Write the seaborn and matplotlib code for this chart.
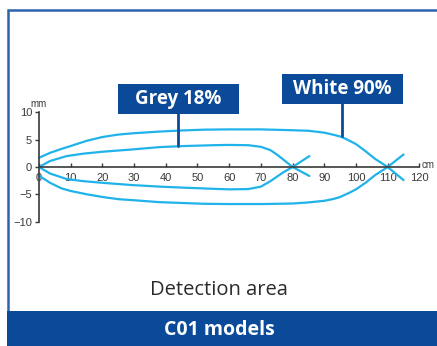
import numpy as np
import pandas as pd
import seaborn as sns
import matplotlib.pyplot as plt
from matplotlib.patches import Rectangle

# detection curves (cm, mm)
white_up_x = [0, 3.5, 7, 10, 15, 20, 25, 30, 38, 45, 52, 60, 70, 80, 85, 90, 93, 95, 97, 100, 103, 106, 110, 115]
white_up_y = [1.7, 2.6, 3.3, 3.85, 4.8, 5.5, 5.95, 6.2, 6.5, 6.7, 6.85, 6.9, 6.9, 6.75, 6.65, 6.3, 5.9, 5.6, 5.1, 4.2, 2.9, 1.5, 0, -2.4]
white_lo_x = [0, 3.5, 7, 10, 15, 20, 25, 30, 38, 45, 52, 60, 70, 80, 85, 90, 93, 95, 98, 100, 103, 106, 110, 115]
white_lo_y = [-1.6, -2.9, -3.9, -4.4, -5.0, -5.5, -5.9, -6.1, -6.45, -6.6, -6.75, -6.8, -6.8, -6.7, -6.5, -6.2, -5.85, -5.5, -4.7, -4.1, -2.9, -1.5, 0, 2.3]
grey_up_x = [0, 3.5, 8.7, 14, 20, 29, 38, 46, 55, 60, 66, 70, 73, 75, 77, 80, 85.3]
grey_up_y = [0, 1.1, 2.0, 2.45, 2.8, 3.2, 3.65, 3.85, 4.0, 4.05, 4.0, 3.7, 3.1, 2.3, 1.4, 0, -1.65]
grey_lo_x = [0, 3.5, 8.7, 14, 20, 29, 38, 46, 55, 60, 66, 70, 73, 75, 77, 80, 85.3]
grey_lo_y = [0, -1.2, -2.2, -2.6, -2.9, -3.3, -3.6, -3.8, -4.0, -4.1, -4.05, -3.6, -2.6, -1.8, -1.0, 0, 2.0]

x_ticks = [0, 10, 20, 30, 40, 50, 60, 70, 80, 90, 100, 110, 120]
y_ticks = [-10, -5, 0, 5, 10]

navy = '#0b4a98'
cyan = '#1fb3ea'
dark = '#3a3a3a'

sns.set_style('white')
plt.rcParams['font.family'] = ['Liberation Sans', 'DejaVu Sans']

fig = plt.figure(figsize=(4.37, 3.46), dpi=100)
ax = fig.add_axes([0, 0, 1, 1])
ax.set_xlim(-39 / 3.17, (437 - 39) / 3.17)
ax.set_ylim(-(346 - 167) / 5.45, 167 / 5.45)
ax.patch.set_alpha(0)

for xs, ys in [(white_up_x, white_up_y), (white_lo_x, white_lo_y),
               (grey_up_x, grey_up_y), (grey_lo_x, grey_lo_y)]:
    sns.lineplot(x=xs, y=ys, sort=False, color=cyan, linewidth=1.6, ax=ax)

for s in ['top', 'right']:
    ax.spines[s].set_visible(False)
ax.spines['left'].set_position(('data', 0))
ax.spines['bottom'].set_position(('data', 0))
ax.spines['left'].set_bounds(-10, 10)
ax.spines['bottom'].set_bounds(0, 120)
for s in ['left', 'bottom']:
    ax.spines[s].set_color(dark)
    ax.spines[s].set_linewidth(1.2)
    ax.spines[s].set_visible(True)
ax.set_xticks(x_ticks)
ax.set_yticks(y_ticks)
ax.tick_params(axis='x', direction='in', length=3, width=1, color=dark,
               labelsize=8, labelcolor=dark, pad=4, bottom=True)
ax.tick_params(axis='y', direction='out', length=3, width=1, color=dark,
               labelsize=8, labelcolor=dark, pad=2, left=True)
ax.text(0, 10.7, 'mm', fontsize=7, color=dark, ha='center', va='bottom')
ax.text(120.8, 0.3, 'cm', fontsize=7, color=dark, ha='left', va='center')

# labels with pointers
box_w, box_h = 121 / 3.17, 30 / 5.45
ax.plot([44, 44], [3.8, 10], color=navy, linewidth=2)
ax.plot([95.7, 95.7], [5.7, 12], color=navy, linewidth=2)
ax.add_patch(Rectangle((44 - box_w / 2, 12.5 - box_h / 2), box_w, box_h, fc=navy, ec='none'))
ax.add_patch(Rectangle((95.7 - box_w / 2, 14.4 - box_h / 2), box_w, box_h, fc=navy, ec='none'))
ax.text(44, 12.5, 'Grey 18%', fontsize=13.5, fontweight='bold', color='white',
        family=['Open Sans', 'DejaVu Sans'], ha='center', va='center')
ax.text(95.7, 14.4, 'White 90%', fontsize=13.5, fontweight='bold', color='white',
        family=['Open Sans', 'DejaVu Sans'], ha='center', va='center')

# frame and footer
fig.patches.append(Rectangle((8 / 437, 0), 1, 1 - 10 / 346, transform=fig.transFigure,
                             fill=False, ec='#2f62ad', lw=1.8, zorder=0))
fig.patches.append(Rectangle((7 / 437, 0), 1, 35 / 346, transform=fig.transFigure,
                             fc=navy, ec='none', zorder=0))
fig.text(219 / 437, 1 - 290 / 346, 'Detection area', fontsize=14.5, color='#2a2a2a',
         family=['Open Sans', 'DejaVu Sans'], ha='center', va='center')
fig.text(219 / 437, 1 - 330 / 346, 'C01 models', fontsize=14, fontweight='bold',
         color='white', family=['Open Sans', 'DejaVu Sans'], ha='center', va='center')

fig.savefig('out.png', dpi=100)
